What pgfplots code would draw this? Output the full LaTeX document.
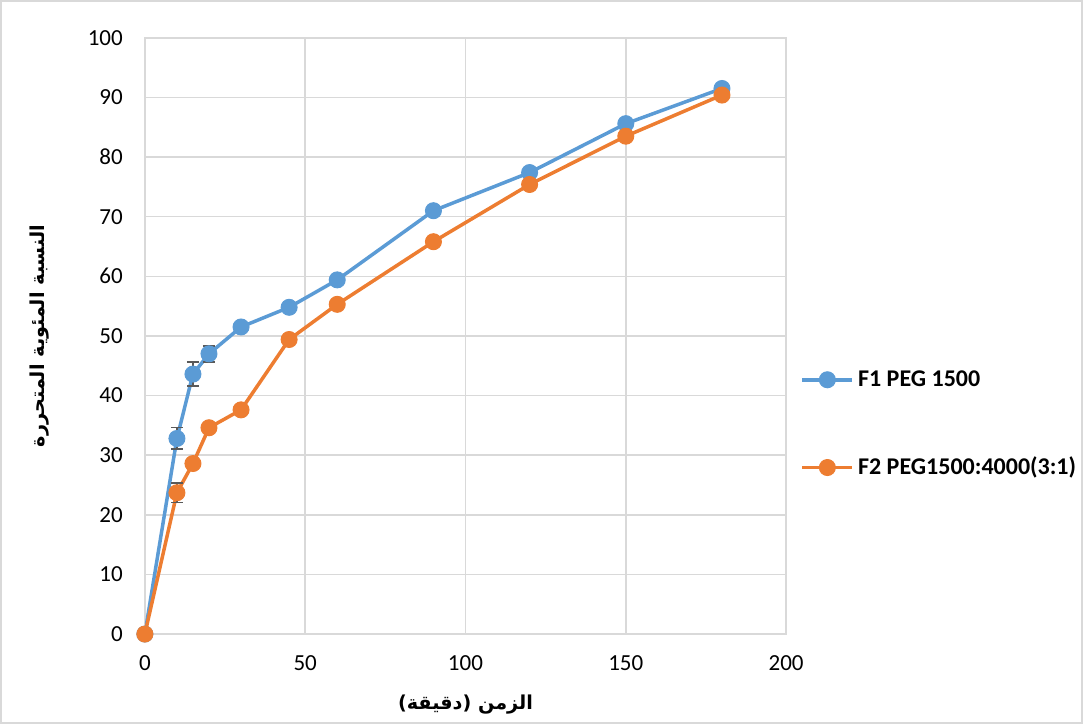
\documentclass[border=0pt]{standalone}
\usepackage{fontspec}
\setmainfont{Carlito}
\newfontfamily\arabicfont[Script=Arabic]{DejaVu Sans}
\TeXXeTstate=1
\usepackage{pgfplots}
\pgfplotsset{compat=1.18}
\definecolor{cblue}{HTML}{5B9BD5}
\definecolor{corange}{HTML}{ED7D31}
\definecolor{gridc}{HTML}{D9D9D9}
\definecolor{errc}{HTML}{595959}
\begin{document}
\begin{tikzpicture}[x=1bp,y=1bp]
\draw[gridc, line width=0.8bp] (0.5,0.5) rectangle (541,361.5);
\begin{axis}[at={(72.5bp,45bp)}, anchor=south west, scale only axis,
  width=320.5bp, height=298bp,
  xmin=0, xmax=200, ymin=0, ymax=100,
  xtick={0,50,...,200}, ytick={0,10,...,100},
  grid=major, major grid style={gridc, line width=0.75bp},
  axis line style={gridc, line width=0.75bp},
  tick style={draw=none},
  /pgf/number format/assume math mode=true,
  ticklabel style={font=\fontsize{11.5bp}{13bp}\selectfont},
  xticklabel style={yshift=-7bp},
  yticklabel style={xshift=-7.5bp},
  xlabel={\arabicfont\bfseries\beginR الزمن (دقيقة)\endR},
  ylabel={\arabicfont\bfseries\beginR النسبة المئوية المتحررة\endR},
  label style={font=\fontsize{9.6bp}{11bp}\selectfont},
  xlabel style={at={(axis description cs:0.5,0)}, anchor=center, yshift=-35bp},
  ylabel style={at={(axis description cs:0,0.5)}, anchor=center, xshift=0bp, yshift=52.5bp},
  legend style={at={(1.022,0.352)}, anchor=west, draw=none, fill=none,
    font=\fontsize{12bp}{14bp}\selectfont\bfseries, row sep=30bp, inner sep=0pt},
  legend cell align=left,
  legend image code/.code={\draw[mark repeat=2,mark phase=2,#1] plot coordinates {(0bp,0bp) (12.5bp,0bp) (25bp,0bp)};},
]
\addplot[cblue, line width=1.75bp, mark=*, mark size=4bp, mark options={solid, fill=cblue, draw=cblue, line width=0.5bp},
  error bars/.cd, y dir=both, y explicit,
  error bar style={color=errc, line width=0.75bp},
  error mark options={rotate=90, mark size=3bp, line width=0.75bp, errc}]
  table[x=x, y=y, y error=e] {
x y e
0 0 0
10 32.8 1.8
15 43.6 2.0
20 47.0 1.35
30 51.5 0.4
45 54.8 0.4
60 59.4 0.4
90 71.0 0.4
120 77.4 0.4
150 85.6 0.4
180 91.5 0.4
};
\addlegendentry{F1 PEG 1500}
\addplot[corange, line width=1.75bp, mark=*, mark size=4bp, mark options={solid, fill=corange, draw=corange, line width=0.5bp},
  error bars/.cd, y dir=both, y explicit,
  error bar style={color=errc, line width=0.75bp},
  error mark options={rotate=90, mark size=3bp, line width=0.75bp, errc}]
  table[x=x, y=y, y error=e] {
x y e
0 0 0
10 23.7 1.6
15 28.6 0.4
20 34.6 0.4
30 37.6 0.4
45 49.4 0.4
60 55.3 0.4
90 65.8 0.4
120 75.4 0.4
150 83.5 0.4
180 90.4 0.4
};
\addlegendentry{F2 PEG1500:4000(3:1)}
\end{axis}
\end{tikzpicture}
\end{document}
